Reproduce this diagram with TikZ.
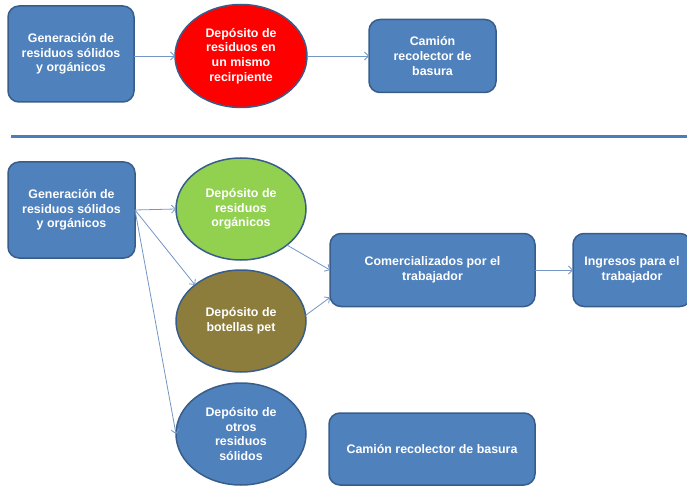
\documentclass[tikz,border=0pt]{standalone}
\usepackage{fontspec}
\setmainfont{Liberation Sans}
\usetikzlibrary{positioning, shapes.geometric, arrows.meta}
\definecolor{boxblue}{HTML}{4F81BD}
\definecolor{edgeblue}{HTML}{385D8A}
\definecolor{lineblue}{HTML}{4A7EBB}
\definecolor{arrowblue}{HTML}{7396C6}
\definecolor{orggreen}{HTML}{92D050}
\definecolor{petolive}{HTML}{8C7D3C}

\begin{document}
\begin{tikzpicture}[x=1pt,y=-1pt,
    every node/.style={inner sep=0,outer sep=0,text=white,align=center,draw=edgeblue,line width=1.5pt,
      font=\fontsize{12.4}{14.7}\selectfont\bfseries},
    caja/.style={rectangle,rounded corners=11pt,fill=boxblue},
    deposito/.style={ellipse,minimum width=130pt,minimum height=102pt},
    flecha/.style={draw=arrowblue,line width=0.8pt,-{Straight Barb[length=4pt,width=8pt]}}]
      \useasboundingbox(0,0) rectangle (687,486);

      \node(gen)[caja,minimum width=126pt,minimum height=96pt] at (71,54){Generación de\\residuos sólidos\\y orgánicos};
      \node(mismo)[deposito,fill=red,minimum width=132pt,minimum height=103pt] at (241,56){Depósito de\\residuos en\\un mismo\\recirpiente};
      \node(camion)[caja,minimum width=127pt,minimum height=73pt,right=62pt of mismo]{Camión\\recolector de\\basura};

      \coordinate(sepa) at (11,137);
      \coordinate(sepb) at (687,137);
      \draw[draw=lineblue,line width=3pt](sepa)--(sepb);

      \node(gendos)[caja,minimum width=127pt,minimum height=96pt] at (71.5,210){Generación de\\residuos sólidos\\y orgánicos};
      \node(org)[deposito,fill=orggreen] at (241,209){Depósito de\\residuos\\orgánicos};
      \node(pet)[deposito,fill=petolive,below=10pt of org]{Depósito de\\botellas pet};
      \node(otros)[deposito,fill=boxblue,below=11pt of pet]{Depósito de\\otros\\residuos\\sólidos};

      \node(com)[caja,minimum width=205pt,minimum height=73pt] at (432.5,270){Comercializados por el\\trabajador};
      \node(ing)[caja,minimum width=118pt,minimum height=73pt,right=38pt of com]{Ingresos para el\\trabajador};
      \node(camdos)[caja,minimum width=206pt,minimum height=72pt] at (432,449){Camión recolector de basura};

      \draw[flecha](mismo.west -| gen.east)--(mismo.west);
      \draw[flecha](mismo.east)--(camion.west);
      \draw[flecha](gendos.east)--(org.west);
      \draw[flecha](gendos.east)--(pet.north west);
      \draw[flecha](gendos.east)--(otros.west);
      \draw[flecha](org.south east)--(com.west);
      \draw[flecha](pet.5)--(com.195);
      \draw[flecha](com.east)--(ing.west);
    \end{tikzpicture}
\end{document}
